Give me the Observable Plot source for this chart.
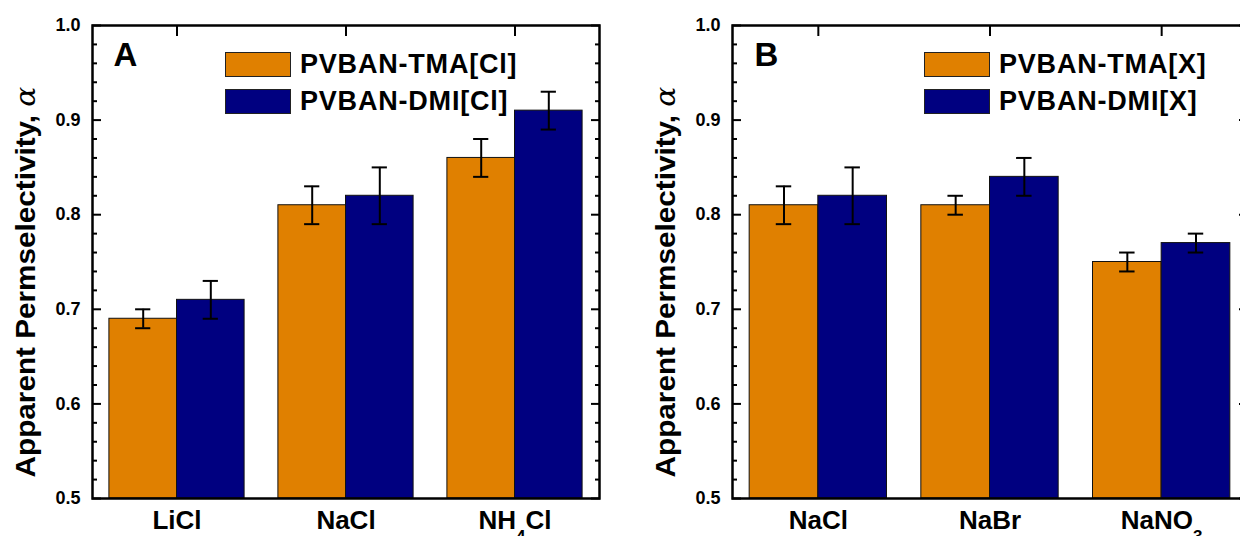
<!DOCTYPE html>
<html><head><meta charset="utf-8">
<script src="https://cdn.jsdelivr.net/npm/d3@7"></script>
<script src="https://cdn.jsdelivr.net/npm/@observablehq/plot@0.6"></script>
<style>
html,body{margin:0;padding:0;background:#fff;overflow:hidden}
#wrap{position:relative;width:1240px;height:536px;overflow:hidden;background:#fff}
.panel{position:absolute;top:0}
.legend{position:absolute;font-family:"Liberation Sans",Arial,sans-serif;font-weight:bold;font-size:27px;color:#000;letter-spacing:0.8px}
.row{position:absolute;left:0;display:flex;align-items:center;white-space:nowrap;height:25px}
.sw{width:66px;height:25px;border:1px solid #222;box-sizing:border-box;margin-right:9px;flex:none}
</style></head><body><div id="wrap"></div>
<script>
// ---- data ----
const catsA = ["LiCl", "NaCl", "NH4Cl"];
const tmaA = [0.69, 0.81, 0.86];
const tmaErrA = [0.01, 0.02, 0.02];
const dmiA = [0.71, 0.82, 0.91];
const dmiErrA = [0.02, 0.03, 0.02];
const seriesA = ["PVBAN-TMA[Cl]", "PVBAN-DMI[Cl]"];

const catsB = ["NaCl", "NaBr", "NaNO3"];
const tmaB = [0.81, 0.81, 0.75];
const tmaErrB = [0.02, 0.01, 0.01];
const dmiB = [0.82, 0.84, 0.77];
const dmiErrB = [0.03, 0.02, 0.01];
const seriesB = ["PVBAN-TMA[X]", "PVBAN-DMI[X]"];

const yMajorTicks = [0.5, 0.6, 0.7, 0.8, 0.9, 1.0];
const yMinorTicks = [0.52, 0.54, 0.56, 0.58, 0.62, 0.64, 0.66, 0.68, 0.72, 0.74, 0.76, 0.78,
                     0.82, 0.84, 0.86, 0.88, 0.92, 0.94, 0.96, 0.98];
const yLabel = "Apparent Permselectivity, α";
const colors = ["#E08000", "#000080"];

// ---- layout constants ----
const yDomain = [0.5, 1.0];
const barW = 0.4, capHalf = 0.045;
const font = "'Liberation Sans', Arial, sans-serif";

function buildRows(cats, vals, errs) {
  const rows = [];
  cats.forEach((c, i) => {
    const pos = i + 1;
    vals.forEach((v, s) => {
      const x1 = s === 0 ? pos - barW : pos;
      const x2 = s === 0 ? pos : pos + barW;
      rows.push({cat: c, pos, s, value: v[i], err: errs[s][i], x1, x2, xc: (x1 + x2) / 2});
    });
  });
  return rows;
}

function makePanel(cfg) {
  const rows = buildRows(cfg.cats, [cfg.tma, cfg.dmi], [cfg.tmaErr, cfg.dmiErr]);
  rows.forEach(r => r.series = cfg.series[r.s]);
  const positions = cfg.cats.map((c, i) => i + 1);
  const svg = Plot.plot({
    width: cfg.width, height: 536,
    marginLeft: cfg.ml, marginRight: cfg.mr, marginTop: 25, marginBottom: 38,
    style: {fontFamily: font, fontWeight: "bold", fontSize: "18px", color: "#000", background: "transparent", overflow: "visible"},
    x: {domain: [0.5, 3.5], axis: null},
    y: {domain: yDomain, axis: null},
    color: {domain: cfg.series, range: colors},
    marks: [
      Plot.rectY(rows, {x1: "x1", x2: "x2", y1: yDomain[0], y2: "value", fill: "series", stroke: "#111", strokeWidth: 1}),
      Plot.ruleX(rows, {x: "xc", y1: d => d.value - d.err, y2: d => d.value + d.err, stroke: "#000", strokeWidth: 2}),
      Plot.ruleY(rows, {y: d => d.value + d.err, x1: d => d.xc - capHalf, x2: d => d.xc + capHalf, stroke: "#000", strokeWidth: 2}),
      Plot.ruleY(rows, {y: d => d.value - d.err, x1: d => d.xc - capHalf, x2: d => d.xc + capHalf, stroke: "#000", strokeWidth: 2}),
      Plot.axisY(yMinorTicks, {anchor: "left", label: null, tickSize: -5, strokeWidth: 2, tickFormat: () => ""}),
      Plot.axisY(yMinorTicks, {anchor: "right", label: null, tickSize: -5, strokeWidth: 2, tickFormat: () => ""}),
      Plot.axisY(yMajorTicks, {anchor: "left", label: null, tickSize: -9, strokeWidth: 2, tickFormat: () => ""}),
      Plot.axisY(yMajorTicks, {anchor: "right", label: null, tickSize: -9, strokeWidth: 2, tickFormat: () => ""}),
      Plot.axisY(yMajorTicks, {anchor: "left", label: null, tickSize: 0, tickPadding: 12, tickFormat: d3.format(".1f"), fontSize: 18}),
      Plot.axisX(positions, {anchor: "top", label: null, tickSize: -10, strokeWidth: 2, tickFormat: () => ""}),
      Plot.axisX(positions, {anchor: "bottom", label: null, tickSize: 0, tickPadding: 12, tickFormat: i => cfg.cats[i - 1], fontSize: 26}),
      Plot.frame({stroke: "#000", strokeWidth: 2.5}),
      Plot.text([cfg.letter], {frameAnchor: "top-left", dx: cfg.letterDx, dy: 17, lineAnchor: "top", textAnchor: "start", fontSize: 33}),
      Plot.text([yLabel], {frameAnchor: "left", dx: -77, dy: 20, rotate: -90, lineAnchor: "top", textAnchor: "middle", fontSize: 27})
    ]
  });

  // post-process text: italic serif alpha and chemical subscripts
  d3.select(svg).selectAll("text").each(function() {
    const t = d3.select(this);
    const s = this.textContent;
    if (s === yLabel) {
      this.textContent = "";
      t.append("tspan").text("Apparent Permselectivity, ");
      t.append("tspan").attr("font-family", "'DejaVu Serif', 'Liberation Serif', serif")
        .attr("font-style", "italic").attr("font-weight", "normal").text("α");
      const tr = t.attr("transform") || "";
      t.attr("transform", tr + " scale(1.1,1)");
    } else if (/[A-Za-z]\d/.test(s) && cfg.cats.includes(s)) {
      this.textContent = "";
      const parts = s.split(/(\d+)/).filter(p => p !== "");
      parts.forEach(p => {
        if (/^\d+$/.test(p)) {
          t.append("tspan").attr("font-size", 17).attr("dy", 13).text(p);
        } else {
          const ts = t.append("tspan").text(p);
          if (t.selectAll("tspan").size() > 1) ts.attr("dy", -13);
        }
      });
    }
  });

  const div = document.createElement("div");
  div.className = "panel";
  div.style.left = cfg.left + "px";
  div.style.width = cfg.width + "px";
  div.appendChild(svg);

  const leg = document.createElement("div");
  leg.className = "legend";
  leg.style.left = cfg.legLeft + "px";
  leg.style.top = "52px";
  cfg.series.forEach((name, i) => {
    const row = document.createElement("div");
    row.className = "row";
    row.style.top = (i * 36.5) + "px";
    const sw = document.createElement("div");
    sw.className = "sw";
    sw.style.background = colors[i];
    const tx = document.createElement("span");
    tx.textContent = name;
    row.appendChild(sw);
    row.appendChild(tx);
    leg.appendChild(row);
  });
  div.appendChild(leg);
  return div;
}

const wrap = document.getElementById("wrap");
wrap.appendChild(makePanel({
  cats: catsA, tma: tmaA, dmi: dmiA, tmaErr: tmaErrA, dmiErr: dmiErrA, series: seriesA,
  letter: "A", letterDx: 21, left: 0, width: 620, ml: 92, mr: 21, legLeft: 225
}));
wrap.appendChild(makePanel({
  cats: catsB, tma: tmaB, dmi: dmiB, tmaErr: tmaErrB, dmiErr: dmiErrB, series: seriesB,
  letter: "B", letterDx: 22, left: 620, width: 640, ml: 112, mr: 13, legLeft: 304
}));
</script></body></html>
